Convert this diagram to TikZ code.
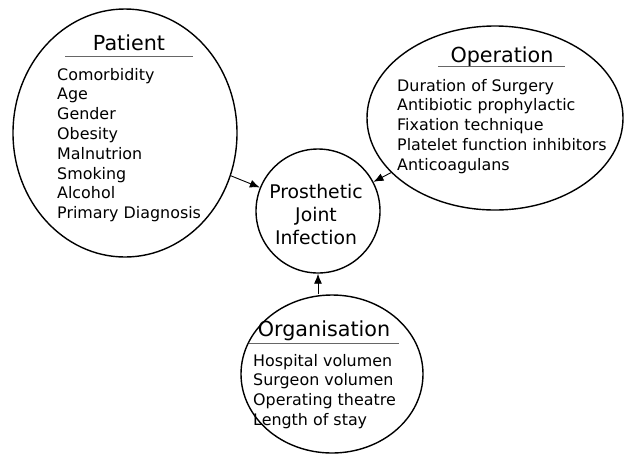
\documentclass[tikz,border=0pt]{standalone}
\usepackage{fontspec}
\setmainfont{DejaVu Sans}
\usetikzlibrary{shapes.geometric,arrows.meta}
\begin{document}
\begin{tikzpicture}[x=1pt,y=-1pt,
  bubble/.style={draw=black,line width=1.4pt,ellipse,inner sep=0pt},
  title/.style={font=\fontsize{20.7}{24}\selectfont,anchor=base,inner sep=0pt},
  items/.style={font=\fontsize{15.9}{19.8}\selectfont,align=left,anchor=base west,inner sep=0pt},
  rule/.style={draw=black!60,line width=1pt},
  arr/.style={draw=black,line width=0.9pt,-{Latex[length=10pt,width=8pt]}}
]
\useasboundingbox (0,0) rectangle (628,456);
% shapes
\node[bubble,minimum width=224pt,minimum height=248pt] (pat) at (125,133) {};
\node[bubble,minimum width=256pt,minimum height=184pt] (op) at (495,118) {};
\node[bubble,minimum width=182pt,minimum height=158pt] (org) at (332,374) {};
\node[bubble,circle,minimum size=124pt] (pji) at (318,211) {};
% texts
\node[title] (patt) at (129,50) {Patient};
\draw[rule] (65,56) coordinate (pr1) -- (193,56) coordinate (pr2);
\node[items] (patl) at (57,218.6) {Comorbidity\\Age\\Gender\\Obesity\\Malnutrion\\Smoking\\Alcohol\\Primary Diagnosis};
\node[title] (opt) at (502,62) {Operation};
\draw[rule] (438,66) coordinate (or1) -- (565,66) coordinate (or2);
\node[items] (opl) at (397,170.2) {Duration of Surgery\\Antibiotic prophylactic\\Fixation technique\\Platelet function inhibitors\\Anticoagulans};
\node[title] (orgt) at (324,336) {Organisation};
\draw[rule] (249,343) coordinate (gr1) -- (399,343) coordinate (gr2);
\node[items] (orgl) at (253,425.4) {Hospital volumen\\Surgeon volumen\\Operating theatre\\Length of stay};
\node[font=\fontsize{18.8}{23}\selectfont,align=center,anchor=base,inner sep=0pt] (pjit) at (316,244) {Prosthetic\\Joint\\Infection};
% connectors
\draw[arr] (pat) -- (pji);
\draw[arr] (op) -- (pji);
\draw[arr] (pji.south |- org.north) -- (pji.south);
\end{tikzpicture}
\end{document}
